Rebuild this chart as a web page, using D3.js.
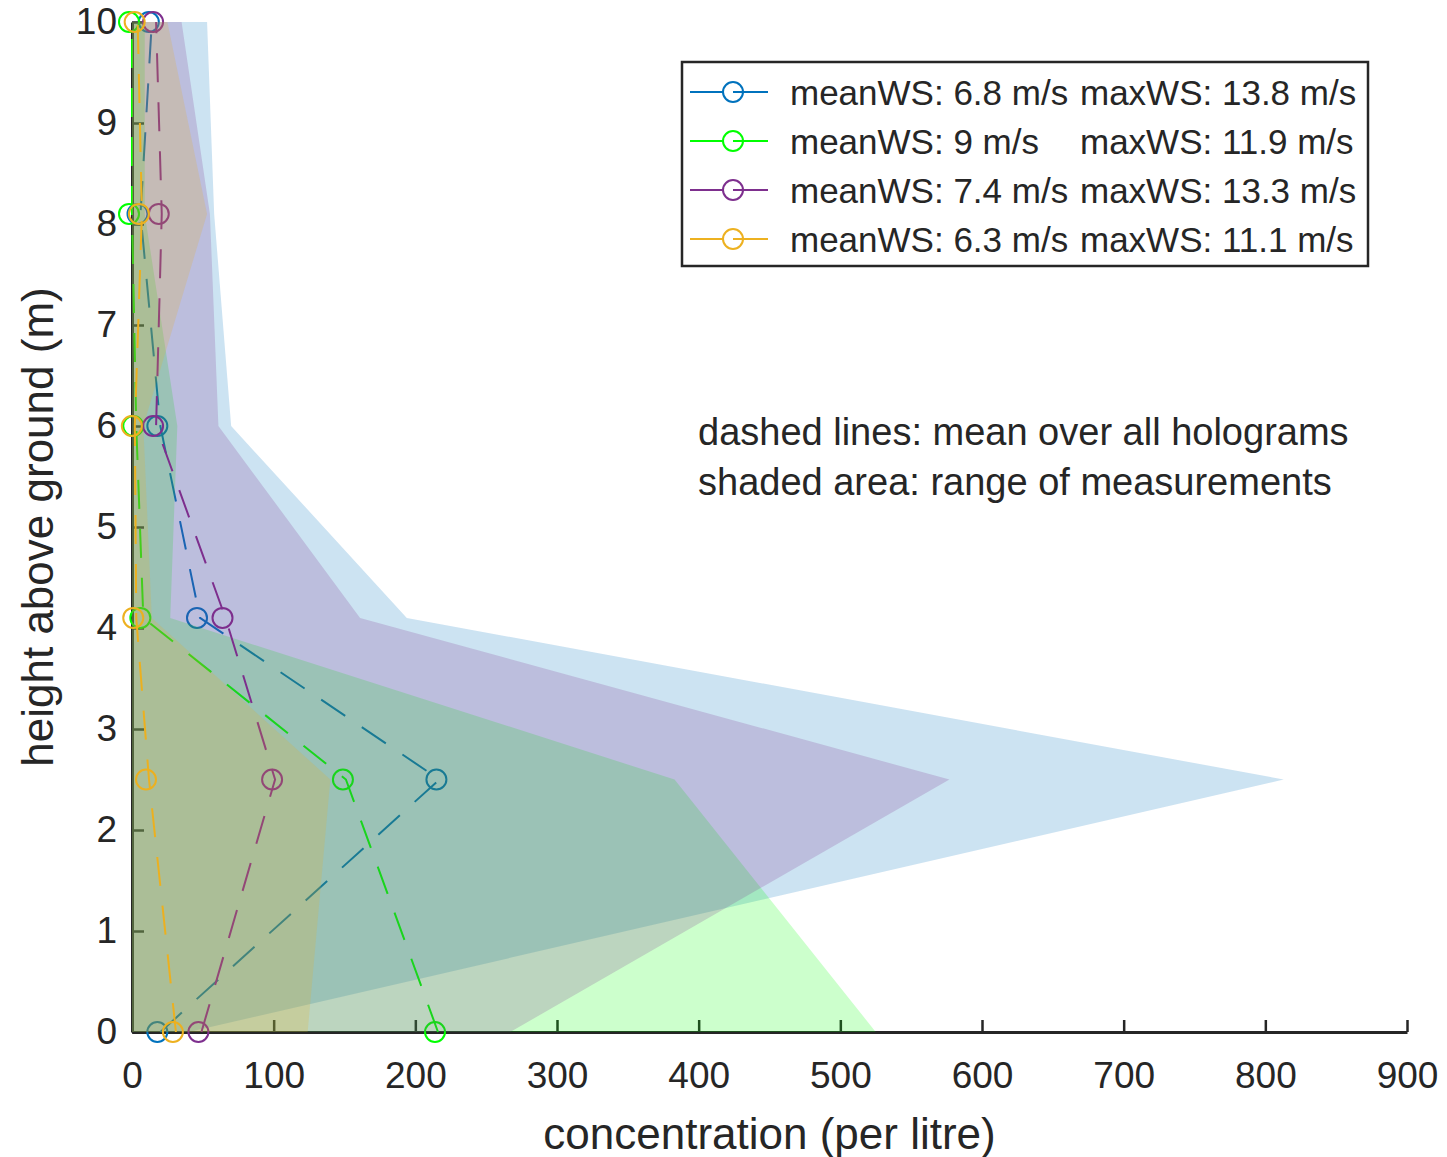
<!DOCTYPE html>
<html>
<head>
<meta charset="utf-8">
<script src="https://cdn.jsdelivr.net/npm/d3@7"></script>
<style>
  body { margin: 0; background: #fff; }
  text { font-family: "Liberation Sans", Arial, sans-serif; fill: #262626; }
</style>
</head>
<body>
<div id="chart"></div>
<script>
// heights of the measurement levels (m)
const heights = [0, 2.5, 4.1, 6, 8.1, 10];

// mean concentration per level (dashed lines + markers)
const meanBlue   = [20, 217, 48, 20, 6, 14];
const meanGreen  = [216, 151, 8, 3, 0, 0];
const meanPurple = [49, 101, 66, 17, 21, 17];
const meanOrange = [31, 12, 3, 2, 7, 4];

// range of measurements per level (shaded areas)
const minBlue   = [0, 0, 0, 0, 0, 0];
const maxBlue   = [40, 813, 194, 70, 58, 53];
const minGreen  = [0, 0, 0, 0, 0, 0];
const maxGreen  = [525, 383, 27, 32, 9, 9];
const minPurple = [0, 0, 0, 0, 0, 0];
const maxPurple = [267, 577, 161, 61, 55, 35];
const minOrange = [0, 0, 0, 0, 0, 0];
const maxOrange = [124, 140, 14, 8, 53, 25];

// legend text
const meanWS = ["6.8", "9", "7.4", "6.3"];
const maxWS  = ["13.8", "11.9", "13.3", "11.1"];
const colors = ["#0072BD", "#00FF00", "#7E2F8E", "#EDB120"];

const xTicks = [0, 100, 200, 300, 400, 500, 600, 700, 800, 900];
const yTicks = [0, 1, 2, 3, 4, 5, 6, 7, 8, 9, 10];

const series = [
  {mean: meanBlue,   lo: minBlue,   hi: maxBlue},
  {mean: meanGreen,  lo: minGreen,  hi: maxGreen},
  {mean: meanPurple, lo: minPurple, hi: maxPurple},
  {mean: meanOrange, lo: minOrange, hi: maxOrange}
];

// set the dimensions and margins of the graph
const margin = {top: 22, right: 40, bottom: 125, left: 132},
  width = 1275,
  height = 1010;

var svg = d3.select("#chart")
  .append("svg")
    .attr("width", 1447)
    .attr("height", 1157)
  .append("g")
    .attr("transform", "translate(" + margin.left + "," + margin.top + ")");

const x = d3.scaleLinear().domain([0, 900]).range([0, width]);
const y = d3.scaleLinear().domain([0, 10]).range([height, 0]);

// axes first, the shaded areas sit on top of them
const xAxis = svg.append("g")
  .attr("transform", "translate(0," + height + ")")
  .call(d3.axisBottom(x).tickValues(xTicks).tickSizeInner(-12).tickSizeOuter(0).tickPadding(30));

const yAxis = svg.append("g")
  .call(d3.axisLeft(y).tickValues(yTicks).tickSizeInner(-12).tickSizeOuter(0).tickPadding(15));

[xAxis, yAxis].forEach(function(a) {
  a.select(".domain").attr("stroke", "#262626").attr("stroke-width", 3);
  a.selectAll(".tick line").attr("stroke", "#262626").attr("stroke-width", 2.5);
  a.selectAll(".tick text")
    .style("font-family", "'Liberation Sans', Arial, sans-serif")
    .style("font-size", "37px")
    .attr("fill", "#262626");
});

const line = d3.line()
  .x(function(d) { return x(d.v); })
  .y(function(d) { return y(d.h); });

const area = d3.area()
  .y(function(d) { return y(d.h); })
  .x0(function(d) { return x(d.lo); })
  .x1(function(d) { return x(d.hi); });

series.forEach(function(s, i) {
  const pts = heights.map(function(h, j) { return {h: h, v: s.mean[j], lo: s.lo[j], hi: s.hi[j]}; });

  svg.append("path")
    .datum(pts)
    .attr("d", line)
    .attr("fill", "none")
    .attr("stroke", colors[i])
    .attr("stroke-width", 2)
    .attr("stroke-dasharray", "29,20");

  svg.append("g")
    .attr("transform", "translate(-3,0)")
    .selectAll("circle")
    .data(pts)
    .join("circle")
      .attr("cx", function(d) { return x(d.v); })
      .attr("cy", function(d) { return y(d.h); })
      .attr("r", 10)
      .attr("fill", "none")
      .attr("stroke", colors[i])
      .attr("stroke-width", 2);

  svg.append("path")
    .datum(pts)
    .attr("d", area)
    .attr("fill", colors[i])
    .attr("fill-opacity", 0.2)
    .attr("stroke", "none");
});

// axis titles
svg.append("text")
  .attr("x", width / 2)
  .attr("y", 1133 - margin.top)
  .attr("text-anchor", "middle")
  .attr("dominant-baseline", "central")
  .style("font-size", "44px")
  .text("concentration (per litre)");

svg.append("text")
  .attr("transform", "translate(" + (37 - margin.left) + "," + (527 - margin.top) + ") rotate(-90)")
  .attr("text-anchor", "middle")
  .attr("dominant-baseline", "central")
  .style("font-size", "44px")
  .text("height above ground (m)");

// legend
const lg = svg.append("g").attr("transform", "translate(" + (682 - margin.left) + "," + (62 - margin.top) + ")");
lg.append("rect")
  .attr("width", 686).attr("height", 204)
  .attr("fill", "#fff")
  .attr("stroke", "#262626")
  .attr("stroke-width", 2.5);

colors.forEach(function(c, i) {
  const row = lg.append("g").attr("transform", "translate(0," + (30 + i * 49) + ")");
  row.append("line").attr("x1", 8).attr("x2", 86).attr("stroke", c).attr("stroke-width", 2);
  row.append("circle").attr("cx", 51).attr("r", 10).attr("fill", "#fff").attr("stroke", c).attr("stroke-width", 2);
  row.append("line").attr("x1", 51).attr("x2", 86).attr("stroke", c).attr("stroke-width", 2);
  row.append("text").attr("x", 108).attr("dominant-baseline", "central").style("font-size", "35px")
    .text("meanWS: " + meanWS[i] + " m/s");
  row.append("text").attr("x", 398).attr("dominant-baseline", "central").style("font-size", "35px")
    .text("maxWS: " + maxWS[i] + " m/s");
});

// notes
svg.append("text").attr("x", 698 - margin.left).attr("y", 432 - margin.top)
  .attr("dominant-baseline", "central").style("font-size", "38px")
  .text("dashed lines: mean over all holograms");
svg.append("text").attr("x", 698 - margin.left).attr("y", 482 - margin.top)
  .attr("dominant-baseline", "central").style("font-size", "38px")
  .text("shaded area: range of measurements");
</script>
</body>
</html>
